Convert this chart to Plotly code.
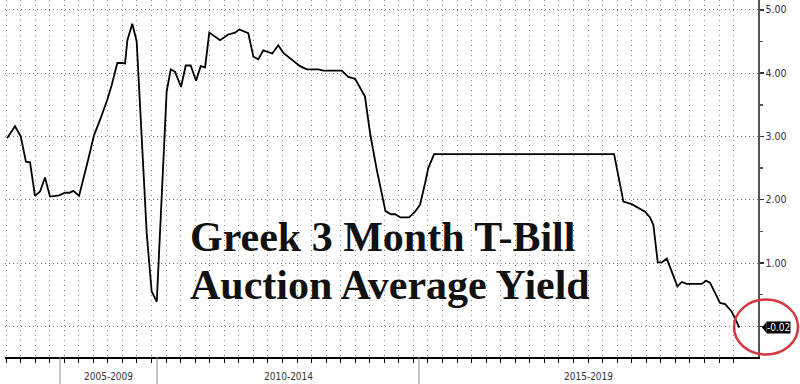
import plotly.graph_objects as go

# Auction observation index (one unit = one axis tick step) and average yield (%)
auction_idx = [0.07, 0.62, 1.01, 1.37, 1.65, 1.99, 2.34, 2.68, 3.02, 3.66, 4.05, 4.35, 4.63,
               5.02, 5.59, 6.05, 6.46, 6.96, 7.26, 7.65, 8.02, 8.18, 8.34, 8.68, 8.98, 9.67,
               10.01, 10.36, 11.04, 11.32, 11.62, 12.03, 12.35, 12.69, 13.06, 13.38, 13.68,
               13.97, 14.71, 15.28, 15.74, 16.03, 16.65, 17.00, 17.34, 17.68, 18.30, 18.71,
               19.06, 19.64, 20.21, 20.67, 21.46, 21.81, 23.07, 23.53, 23.99, 24.67, 25.02,
               25.48, 26.08, 26.46, 26.74, 27.11, 27.70, 28.11, 28.45, 28.80, 29.02, 29.42,
               41.79, 42.43, 43.00, 43.92, 44.26, 44.49, 44.79, 45.07, 45.41, 46.14, 46.44,
               46.78, 47.81, 48.11, 48.38, 49.07, 49.42, 49.88, 50.40]
avg_yield = [2.97, 3.16, 3.00, 2.60, 2.59, 2.06, 2.13, 2.35, 2.05, 2.07, 2.11, 2.11, 2.14,
             2.06, 2.58, 3.02, 3.26, 3.58, 3.81, 4.16, 4.16, 4.15, 4.52, 4.78, 4.50, 1.47,
             0.55, 0.39, 3.71, 4.06, 4.02, 3.78, 4.12, 4.12, 3.88, 4.11, 4.09,
             4.64, 4.52, 4.61, 4.64, 4.69, 4.63, 4.26, 4.22, 4.36, 4.31, 4.44,
             4.32, 4.22, 4.11, 4.06, 4.06, 4.04, 4.04, 3.94, 3.91, 3.63, 3.05,
             2.47, 1.82, 1.77, 1.77, 1.72, 1.72, 1.81, 1.92, 2.26, 2.50, 2.72,
             2.72, 1.97, 1.93, 1.81, 1.72, 1.60, 1.01, 1.01, 1.07, 0.63, 0.70,
             0.67, 0.67, 0.72, 0.69, 0.37, 0.35, 0.23, -0.02]

period_labels = ["2005-2009", "2010-2014", "2015-2019"]
period_bounds = [3.71, 10.38, 28.38]   # index where each period starts

y_ticks = [0, 1, 2, 3, 4, 5]
y_ticktext = ["", "1.00", "2.00", "3.00", "4.00", "5.00"]
title_lines = ["Greek 3 Month T-Bill", "Auction Average Yield"]

X_RANGE = [-0.07, 51.68]
Y_RANGE = [-0.485, 5.155]

SMALL_FONT = "Liberation Sans Narrow, DejaVu Sans Condensed, Arial Narrow, Liberation Sans, sans-serif"

fig = go.Figure()
fig.add_trace(go.Scatter(x=auction_idx, y=avg_yield, mode="lines",
                         line=dict(color="#000000", width=1.8), hoverinfo="skip"))

def xp(v):
    return (v - X_RANGE[0]) / (X_RANGE[1] - X_RANGE[0])

def yp(v):
    return (v - Y_RANGE[0]) / (Y_RANGE[1] - Y_RANGE[0])

shapes = []
annotations = []
ends = period_bounds[1:] + [X_RANGE[1]]
for lab, a, b in zip(period_labels, period_bounds, ends):
    shapes.append(dict(type="line", xref="paper", yref="paper", x0=xp(a), x1=xp(a),
                       y0=0, y1=-0.08, line=dict(color="#888888", width=1)))
    annotations.append(dict(xref="paper", yref="paper", x=xp((a + b) / 2), y=-0.056,
                            text=lab, showarrow=False, xanchor="center", yanchor="middle",
                            font=dict(family=SMALL_FONT, size=10, color="#333333")))

# last value label (black box with a notch)
last_val = avg_yield[-1]
ly = yp(last_val)
px_w = 753.0
px_h = 357.0
annotations.append(dict(xref="paper", yref="paper", x=1 + 8 / px_w, y=ly, text=f"{last_val:.2f}",
                        showarrow=False, xanchor="left", yanchor="middle", bgcolor="#000000",
                        borderpad=0,
                        font=dict(family=SMALL_FONT, size=10, color="#ffffff")))
shapes.append(dict(type="path", xref="paper", yref="paper",
                   path=f"M {1 + 4 / px_w} {ly} L {1 + 8.5 / px_w} {ly + 5.5 / px_h} L {1 + 8.5 / px_w} {ly - 5.5 / px_h} Z",
                   fillcolor="#000000", line=dict(width=0)))

# red highlight ellipse
shapes.append(dict(type="circle", xref="paper", yref="paper",
                   x0=1 - 24 / px_w, x1=1 + 40 / px_w,
                   y0=yp(last_val) - 27 / px_h, y1=yp(last_val) + 28 / px_h,
                   line=dict(color="#d4373d", width=2.5)))

# chart title text
for i, line in enumerate(title_lines):
    annotations.append(dict(xref="paper", yref="paper", x=183 / px_w, y=1 - (237 + 48 * i) / px_h,
                            text=f"<b>{line}</b>", showarrow=False, xanchor="left", yanchor="middle",
                            font=dict(family="Liberation Serif, Times New Roman, serif", size=42,
                                      color="#111111")))

fig.update_layout(
    width=800, height=384,
    margin=dict(l=5, r=42, t=0, b=27),
    paper_bgcolor="#ffffff", plot_bgcolor="#ffffff",
    showlegend=False,
    hovermode=False,
    shapes=shapes, annotations=annotations,
    xaxis=dict(range=X_RANGE, tickvals=list(range(0, 51)), showticklabels=False,
               ticks="outside", ticklen=4, tickcolor="#000000", tickwidth=1,
               showgrid=True, gridcolor="#8a8a8a", gridwidth=1, griddash="1px,4px",
               showline=True, linecolor="#000000", linewidth=1.5, zeroline=False),
    yaxis=dict(range=Y_RANGE, side="right", tickvals=y_ticks, ticktext=y_ticktext,
               ticks="outside", ticklen=4, tickwidth=1.5, tickcolor="#333333",
               minor=dict(dtick=0.5, tick0=0, ticks="outside", ticklen=3, tickcolor="#555555", showgrid=False),
               showgrid=True, gridcolor="#7a7a7a", gridwidth=1, griddash="1px,3px",
               showline=True, linecolor="#555555", linewidth=1.5, zeroline=False,
               automargin=False,
               tickfont=dict(family=SMALL_FONT, size=10.5, color="#333333")),
)

fig.write_html("out.html",
               config={"displayModeBar": False, "staticPlot": True},
               post_script="document.body.style.margin='0px';document.body.style.overflow='hidden';")
